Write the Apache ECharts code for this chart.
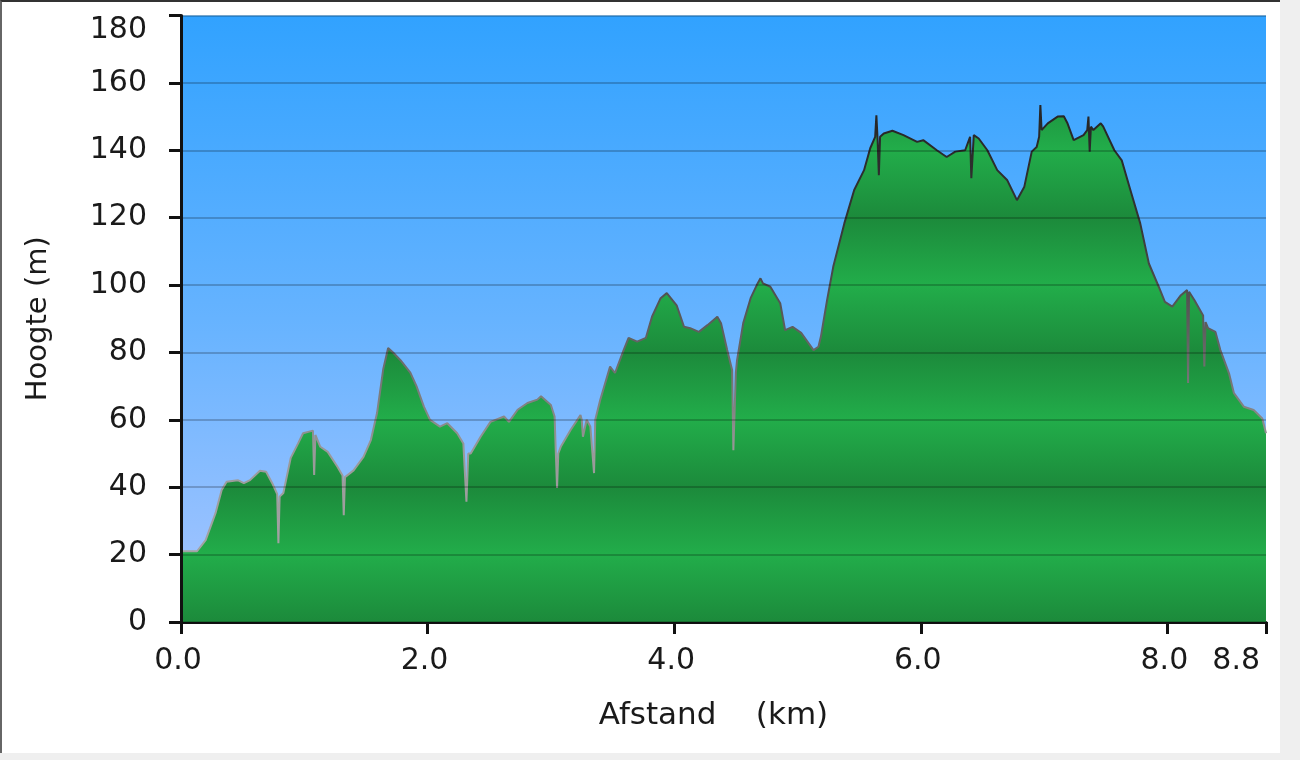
<!DOCTYPE html>
<html>
<head>
<meta charset="utf-8">
<script src="https://cdn.jsdelivr.net/npm/echarts@6/dist/echarts.min.js"></script>
<style>
  html, body { margin: 0; padding: 0; background: #efefef; width: 1300px; height: 760px; overflow: hidden; }
  #frame { position: absolute; left: 0; top: 0; width: 1278px; height: 751px; background: #fff;
           border-top: 2px solid #333; border-left: 2px solid #666; }
  #chart { position: absolute; left: 0; top: 0; width: 1300px; height: 760px; }
</style>
</head>
<body>
<div id="frame"></div>
<div id="chart"></div>
<script>
// ---- data (distance in km, elevation in m) ----
const distanceKm = [
  0.00, 0.13, 0.20, 0.28, 0.33, 0.37, 0.46, 0.51, 0.56, 0.64, 0.69, 0.74, 0.78, 0.79, 0.80, 0.83,
  0.89, 0.95, 0.99, 1.04, 1.07, 1.08, 1.09, 1.13, 1.19, 1.27, 1.31, 1.32, 1.33, 1.40, 1.48, 1.54,
  1.59, 1.64, 1.68, 1.72, 1.78, 1.86, 1.91, 1.97, 2.02, 2.10, 2.16, 2.24, 2.29, 2.315, 2.33, 2.35,
  2.43, 2.51, 2.62, 2.66, 2.73, 2.81, 2.89, 2.92, 3.00, 3.03, 3.05, 3.06, 3.08, 3.16, 3.24, 3.25,
  3.26, 3.29, 3.32, 3.35, 3.36, 3.40, 3.48, 3.52, 3.59, 3.63, 3.70, 3.77, 3.82, 3.89, 3.94, 4.02,
  4.08, 4.13, 4.20, 4.27, 4.35, 4.38, 4.43, 4.47, 4.48, 4.50, 4.51, 4.56, 4.62, 4.67, 4.70, 4.72,
  4.78, 4.86, 4.90, 4.96, 5.03, 5.13, 5.17, 5.19, 5.24, 5.29, 5.38, 5.46, 5.54, 5.59, 5.63, 5.64,
  5.65, 5.66, 5.67, 5.70, 5.77, 5.86, 5.97, 6.02, 6.13, 6.21, 6.28, 6.36, 6.40, 6.41, 6.43, 6.47,
  6.54, 6.62, 6.70, 6.78, 6.84, 6.90, 6.94, 6.96, 6.97, 6.98, 7.03, 7.11, 7.16, 7.19, 7.24, 7.32,
  7.35, 7.36, 7.37, 7.38, 7.40, 7.46, 7.48, 7.57, 7.63, 7.70, 7.78, 7.85, 7.93, 7.98, 8.04, 8.11,
  8.16, 8.168, 8.176, 8.22, 8.29, 8.30, 8.31, 8.33, 8.39, 8.43, 8.50, 8.54, 8.62, 8.70, 8.77, 8.80
];
const elevationM = [
  21, 21, 24.3, 32.3, 39.2, 41.6, 42.1, 41.2, 42.1, 44.9, 44.6, 41.2, 38, 23.4, 37.2, 38.3,
  48.7, 53, 56, 56.5, 56.8, 43.6, 55.5, 52, 50.5, 46, 43.5, 31.7, 43, 45, 49, 54,
  62, 75, 81.3, 80, 77.7, 74, 70, 63.9, 60, 58, 59, 56, 53, 35.7, 50, 50,
  55, 59.4, 61, 59.4, 63, 65, 66, 67, 64.4, 61, 39.8, 50, 52, 57, 61.4, 60,
  55, 60, 58, 44.2, 60, 65.9, 75.8, 73.9, 80.7, 84.3, 83.2, 84.3, 90.6, 96.1, 97.6, 94,
  87.6, 87.2, 86.1, 88.1, 90.6, 88.7, 80.7, 74.8, 51, 74, 77.7, 88.7, 96.1, 100, 102, 100.5,
  99.5, 94.6, 86.6, 87.6, 85.8, 80.7, 81.7, 84.7, 95.5, 105.4, 118.3, 128.2, 134.1, 140.6, 144, 150.4,
  143, 132.6, 144, 145, 145.8, 144.5, 142.5, 143, 140, 138, 139.6, 140, 144, 131.7, 144.5, 143.5,
  140, 134.1, 131.2, 125.2, 129.2, 139.6, 141, 144, 153.4, 146, 148, 150, 150.1, 148, 143, 144.5,
  146, 150, 139.6, 147, 146, 148, 147, 140, 137, 128.2, 118.3, 106.4, 99.5, 95, 93.6, 97,
  98.5, 70.9, 98, 95.5, 91, 75.8, 89, 87.2, 86.1, 80.7, 73.8, 67.9, 63.9, 62.9, 60.4, 56
];
const xMin = 0, xMax = 8.8, xStep = 2;
const yMin = 0, yMax = 180, yStep = 20;
const xTitle = 'Afstand    (km)';
const yTitle = 'Hoogte (m)';

const points = distanceKm.map((d, i) => [d, elevationM[i]]);

// ---- layout / style ----
const G = { left: 181, right: 34, top: 15.5, bottom: 138 };
const plotTop = G.top, plotBottom = 760 - G.bottom;

// green fill with banded shading (dark at multiples of 40 m, bright in between)
const dark = '#1c8a3b', bright = '#22ad4a';
const greenStops = [];
for (let v = yMax; v >= yMin; v -= 20) {
  greenStops.push({ offset: (yMax - v) / (yMax - yMin), color: (v % 40 === 0) ? dark : bright });
}
const greenFill = { type: 'linear', x: 0, y: plotTop, x2: 0, y2: plotBottom, global: true, colorStops: greenStops };
const lineGrad = { type: 'linear', x: 0, y: plotTop, x2: 0, y2: plotBottom, global: true, colorStops: [
  { offset: 0, color: '#1a1a1a' }, { offset: 0.33, color: '#333' }, { offset: 0.55, color: '#666' },
  { offset: 0.72, color: '#999' }, { offset: 1, color: '#aaa' } ] };
const skyFill = { type: 'linear', x: 0, y: 0, x2: 0, y2: 1, colorStops: [
  { offset: 0, color: '#31a2ff' }, { offset: 0.5, color: '#66b3ff' }, { offset: 1, color: '#a9c6ff' } ] };

const font = '"DejaVu Sans", Verdana, sans-serif';
const chart = echarts.init(document.getElementById('chart'), null, { renderer: 'canvas' });
chart.setOption({
  animation: false,
  backgroundColor: 'transparent',
  grid: { left: G.left, right: G.right, top: G.top, bottom: G.bottom, show: true,
          backgroundColor: skyFill, borderWidth: 0, containLabel: false },
  xAxis: {
    type: 'value', min: xMin, max: xMax, interval: xStep,
    name: xTitle, nameLocation: 'middle', nameGap: 78,
    nameTextStyle: { fontFamily: font, fontSize: 31, color: '#1a1a1a', padding: [0, 20, 0, 0] },
    axisLine: { show: true, onZero: false, lineStyle: { color: '#111', width: 3 } },
    axisTick: { show: true, length: 12, lineStyle: { color: '#111', width: 3 } },
    axisLabel: { show: true, margin: 24, fontFamily: font, fontSize: 30, color: '#1a1a1a',
                 padding: [0, 6, 0, 0], alignMaxLabel: 'right',
                 showMaxLabel: true, showMinLabel: true, formatter: v => v.toFixed(1) },
    splitLine: { show: false }
  },
  yAxis: {
    type: 'value', min: yMin, max: yMax, interval: yStep, z: 3,
    name: yTitle, nameLocation: 'middle', nameGap: 128,
    nameTextStyle: { fontFamily: font, fontSize: 29, color: '#1a1a1a' },
    axisLine: { show: true, lineStyle: { color: '#111', width: 3 } },
    axisTick: { show: true, length: 12, lineStyle: { color: '#111', width: 3 } },
    axisLabel: { show: true, margin: 34, fontFamily: font, fontSize: 30, color: '#1a1a1a',
                 verticalAlignMaxLabel: 'top' },
    splitLine: { show: true, lineStyle: { color: 'rgba(0,0,0,0.28)', width: 1.5 } }
  },
  series: [{
    type: 'line', data: points, symbol: 'none', smooth: false, z: 2,
    lineStyle: { color: lineGrad, width: 2 },
    areaStyle: { color: greenFill, opacity: 1 }
  }]
});
</script>
</body>
</html>
